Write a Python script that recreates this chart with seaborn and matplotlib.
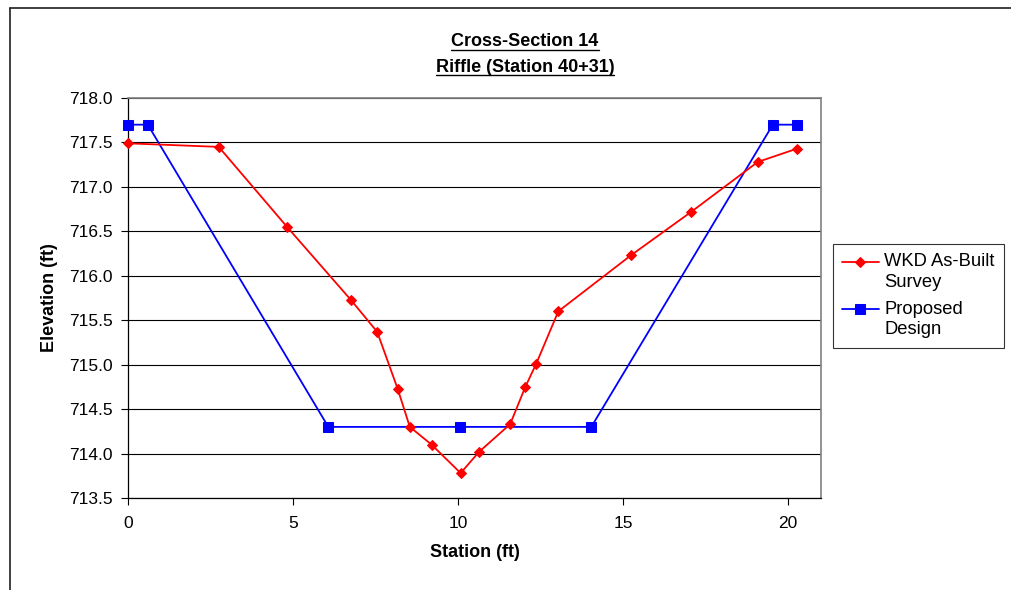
import numpy as np
import pandas as pd
import matplotlib.pyplot as plt
import seaborn as sns
from matplotlib.lines import Line2D
from matplotlib.legend_handler import HandlerLine2D

# survey data
survey_station = [0, 2.75, 4.82, 6.75, 7.55, 8.17, 8.54, 9.2, 10.08, 10.64,
                  11.58, 12.04, 12.37, 13.04, 15.24, 17.07, 19.08, 20.27]
survey_elev = [717.49, 717.45, 716.55, 715.73, 715.37, 714.73, 714.30, 714.10, 713.78, 714.02,
               714.33, 714.75, 715.01, 715.60, 716.23, 716.72, 717.28, 717.43]

design_station = [0, 0.6, 6.07, 10.06, 14.04, 19.54, 20.27]
design_elev = [717.7, 717.7, 714.3, 714.3, 714.3, 717.7, 717.7]

title_lines = ["Cross-Section 14", "Riffle (Station 40+31)"]
series_names = ["WKD As-Built\nSurvey", "Proposed\nDesign"]
y_ticks = [713.5, 714.0, 714.5, 715.0, 715.5, 716.0, 716.5, 717.0, 717.5, 718.0]
x_ticks = [0, 5, 10, 15, 20]

sns.set_style("white")
plt.rcParams['font.family'] = ['Liberation Sans', 'DejaVu Sans']
for k in ["text.color", "axes.labelcolor", "xtick.color", "ytick.color"]:
    plt.rcParams[k] = "black"


class TopLineHandler(HandlerLine2D):
    # put the legend sample next to the first text line, like Excel
    def create_artists(self, legend, orig_handle, xdescent, ydescent, width, height,
                       fontsize, trans):
        return super().create_artists(legend, orig_handle, xdescent, ydescent - 15,
                                      width, height, fontsize, trans)


W, H = 1011, 590
fig = plt.figure(figsize=(W / 100, H / 100), dpi=100)
ax = fig.add_axes([128 / W, 1 - 498 / H, (821 - 128) / W, 400 / H])

survey = pd.DataFrame({"station": survey_station, "elev": survey_elev})
design = pd.DataFrame({"station": design_station, "elev": design_elev})

sns.lineplot(data=survey, x="station", y="elev", ax=ax, sort=False, estimator=None,
             color="#ff0000", marker="D", markersize=5.5, markeredgecolor="#ff0000",
             lw=1.3, label=series_names[0], zorder=4, clip_on=False)
sns.lineplot(data=design, x="station", y="elev", ax=ax, sort=False, estimator=None,
             color="#0000ff", marker="s", markersize=7, markeredgecolor="#0000ff",
             lw=1.3, label=series_names[1], zorder=3, clip_on=False)

ax.set_xlim(0, 21)
ax.set_ylim(713.5, 718.0)
ax.set_xticks(x_ticks)
ax.set_yticks(y_ticks)
ax.set_yticklabels([f"{v:.1f}" for v in y_ticks])
ax.yaxis.grid(True, color="black", lw=0.8)
ax.xaxis.grid(False)
ax.tick_params(axis="both", labelsize=12.5, length=5, width=0.8, color="black",
               direction="out")
ax.tick_params(axis="y", pad=6, left=True)
ax.tick_params(axis="x", pad=8, bottom=True)

for s in ["left", "bottom"]:
    ax.spines[s].set_color("black")
    ax.spines[s].set_linewidth(0.9)
for s in ["top", "right"]:
    ax.spines[s].set_color("#808080")
    ax.spines[s].set_linewidth(1.2)

ax.set_xlabel("Station (ft)", fontsize=13, fontweight="bold", labelpad=9)
ax.set_ylabel("Elevation (ft)", fontsize=13, fontweight="bold", labelpad=8)

handles, labels = ax.get_legend_handles_labels()
leg = ax.legend(handles, labels, loc="upper left", bbox_to_anchor=(832.7 / W, 1 - 244.3 / H),
                bbox_transform=fig.transFigure, borderaxespad=0, fontsize=13.2,
                frameon=True, fancybox=False, edgecolor="black", handlelength=2.0,
                handletextpad=0.3, borderpad=0.5, labelspacing=0.5,
                handler_map={h: TopLineHandler() for h in handles})
leg.get_frame().set_linewidth(0.8)
for t in leg.get_texts():
    t.set_linespacing(1.3)

# title with underline
renderer = fig.canvas.get_renderer()
for txt, base, under in zip(title_lines, [46.5, 72], [49.5, 75]):
    t = fig.text(525 / W, 1 - base / H, txt, ha="center", va="baseline",
                 fontsize=13, fontweight="bold")
    bb = t.get_window_extent(renderer).transformed(fig.transFigure.inverted())
    fig.add_artist(Line2D([bb.x0, bb.x1], [1 - under / H] * 2, transform=fig.transFigure,
                          color="black", lw=1.0))

# outer chart frame
fig.add_artist(Line2D([10 / W, 1.0], [1 - 7.5 / H] * 2, transform=fig.transFigure,
                      color="#202020", lw=1.2))
fig.add_artist(Line2D([10 / W, 10 / W], [0, 1 - 7.5 / H], transform=fig.transFigure,
                      color="#202020", lw=1.2))

fig.savefig("out.png", dpi=100)
